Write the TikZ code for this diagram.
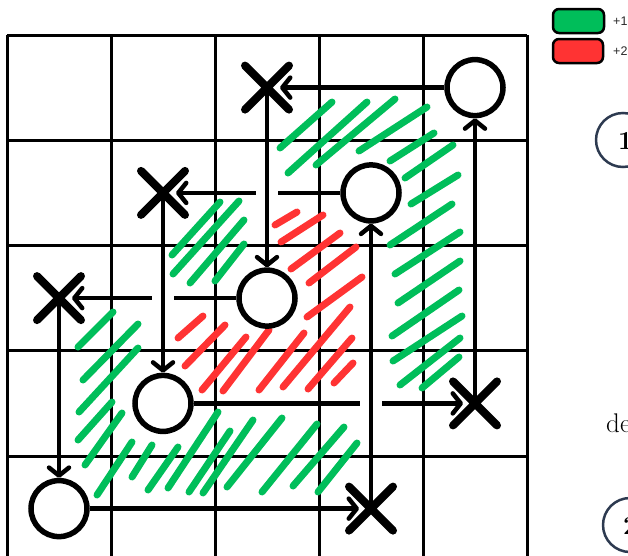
\documentclass[tikz,border=0pt]{standalone}
\usepackage{fontspec}
\newfontfamily\legendfont{Liberation Sans}
\usetikzlibrary{arrows.meta,shapes.misc,calc}
\definecolor{hgreen}{RGB}{0,190,90}
\definecolor{hred}{RGB}{255,51,51}
\definecolor{slate}{RGB}{45,58,80}
\definecolor{legtext}{RGB}{40,40,40}
\begin{document}
\begin{tikzpicture}[x=1pt,y=-1pt,
  gridline/.style={line width=3pt},
  hatchG/.style={hgreen, line width=7pt, line cap=round},
  hatchR/.style={hred, line width=7pt, line cap=round},
  spot/.style={circle, draw, fill=white, line width=5.5pt, minimum size=56pt, inner sep=0pt},
  cross/.style={cross out, draw, line width=8pt, line cap=round, minimum size=44pt, inner sep=0pt, outer sep=0pt},
  link/.style={line width=4.5pt, -{Straight Barb[length=8pt,width=20pt,round]}},
  legbox/.style={draw, line width=2.5pt, rounded corners=6pt},
  legtxt/.style={anchor=west, text=legtext, font=\legendfont\fontsize{12.5}{13}\selectfont, inner sep=0pt},
]
\useasboundingbox (0,0) rectangle (628,555);
\clip (0,0) rectangle (628,555);

% grid
\foreach \gx in {7,111,215,319,423,527} \draw[gridline] (\gx,35) -- (\gx,570);
\foreach \gy in {35,140.25,245.5,350.75,456} \draw[gridline] (7,\gy) -- (527,\gy);

% green hatching
\foreach \a/\b/\c/\d in {
  280/148/332/102, 288/173/367/102, 316/165/395/99, 359/151/427/107,
  390/161/434/133, 405/178/453/145, 411/204/458/175, 390/245/452/204,
  395/274/460/232, 398/303/460/261, 392/336/459/290, 393/361/462/316,
  400/385/460/338, 422/388/459/357,
  172/255/220/202, 173/274/239/201, 190/283/244/220, 215/281/244/244,
  78/347/113/312, 83/380/138/324, 79/412/138/348, 78/440/112/402,
  85/465/122/413, 97/495/132/442, 132/477/152/445, 148/490/178/447,
  168/488/218/412, 189/492/230/431, 203/493/253/420, 227/487/282/418,
  262/492/317/424, 293/486/344/427, 318/492/357/443}
  \draw[hatchG] (\a,\b) -- (\c,\d);

% red hatching
\foreach \a/\b/\c/\d in {
  275/225/297/212, 281/242/323/215, 291/269/340/233, 309/283/356/247,
  307/317/362/277, 178/338/203/316, 185/366/225/325, 202/390/246/337,
  223/391/269/330, 259/390/304/333, 283/387/350/307, 308/389/352/338,
  334/383/353/363}
  \draw[hatchR] (\a,\b) -- (\c,\d);

% circles
\node[spot] (c40) at (475,87.6) {};
\node[spot] (c31) at (371,192.9) {};
\node[spot] (c22) at (267,298.1) {};
\node[spot] (c13) at (163,403.4) {};
\node[spot] (c04) at (59,508.6) {};
% crosses
\node[cross] (x20) at (267,87.6) {};
\node[cross] (x11) at (163,192.9) {};
\node[cross] (x02) at (59,298.1) {};
\node[cross] (x43) at (475,403.4) {};
\node[cross] (x34) at (371,508.6) {};

% horizontal arrows
\draw[link, shorten >=13pt] (c40) -- (x20.center);
\draw[link, shorten >=13pt] (c31) -- (x11.center);
\draw[link, shorten >=13pt] (c22) -- (x02.center);
\draw[link, shorten >=12pt] (c13) -- (x43.center);
\draw[link, shorten >=12pt] (c04) -- (x34.center);

% gaps where vertical arrows cross
\path (c31 -| x20) coordinate (k1) (c22 -| x11) coordinate (k2) (c13 -| x34) coordinate (k3);
\foreach \k in {k1,k2,k3}
  \fill[white] ($(\k)+(-11,-5)$) rectangle ($(\k)+(11,5)$);

% vertical arrows
\draw[link] (x20.center) -- (c22);
\draw[link] (x11.center) -- (c13);
\draw[link] (x02.center) -- (c04);
\draw[link] (x43.center) -- (c40);
\draw[link] (x34.center) -- (c31);

% legend
\draw[legbox, fill=hgreen] (553,9) rectangle (604,33);
\draw[legbox, fill=hred] (553,39) rectangle (603,63);
\node[legtxt] (l1) at (613,21) {+1};
\node[legtxt] (l2) at (613,51) {+2};

% partial content at right edge
\node[circle, draw=slate, line width=2.5pt, minimum size=54pt, inner sep=0pt] (s1) at (623,140) {};
\node[anchor=west, inner sep=0pt, font=\fontsize{26}{26}\selectfont\bfseries] (t1) at (618,141) {1};
\node[anchor=base west, inner sep=0pt, font=\fontsize{27}{27}\selectfont] (t2) at (606,432) {de};
\node[circle, draw=slate, line width=2.5pt, minimum size=54pt, inner sep=0pt] (s2) at (630,525) {};
\node[anchor=west, inner sep=0pt, font=\fontsize{26}{26}\selectfont\bfseries] (t3) at (623,526) {2};
\end{tikzpicture}
\end{document}
